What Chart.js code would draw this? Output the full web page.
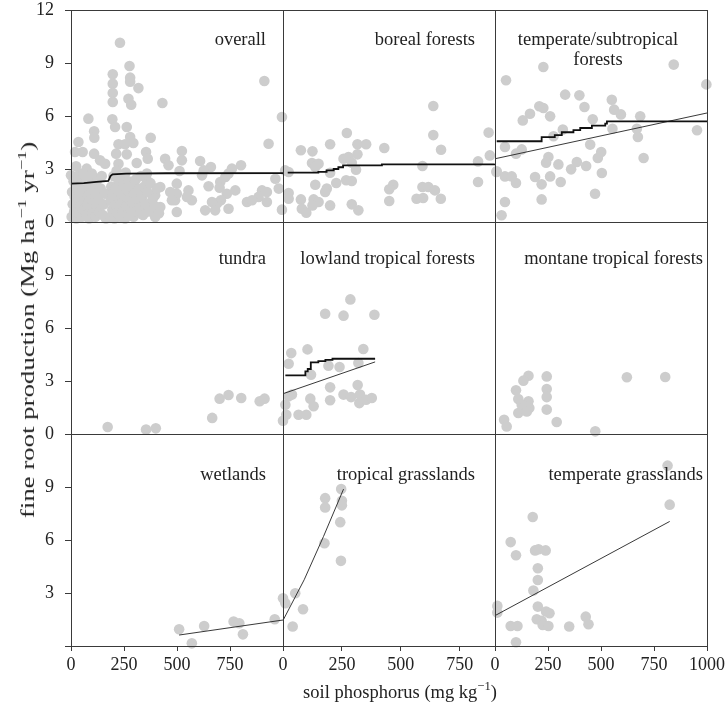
<!DOCTYPE html>
<html>
<head>
<meta charset="utf-8">
<script src="https://cdn.jsdelivr.net/npm/chart.js@4.4.0/dist/chart.umd.min.js"></script>
<style>
    body { margin: 0; background: #fff; }
    #wrap { position: relative; width: 725px; height: 710px; font-family: 'Liberation Serif', 'Times New Roman', serif; color: #222; }
    #wrap canvas { position: absolute; left: 0; top: 0; }
    .panel-title { position: absolute; font-size: 18.5px; line-height: 22px; white-space: nowrap; }
    .axis-title { position: absolute; font-size: 18.5px; line-height: 22px; white-space: nowrap; }
    sup { font-size: 0.68em; line-height: 0; position: relative; top: -0.1em; }
</style>
</head>
<body>
<div id="wrap"></div>
<script>
// Panel names, read left to right, top to bottom
const panelNames = ['overall', 'boreal forests', 'temperate/subtropical<br>forests',
    'tundra', 'lowland tropical forests', 'montane tropical forests',
    'wetlands', 'tropical grasslands', 'temperate grasslands'];

// Axis ticks per column / row
const colXMax = [1000, 900, 1000];
const xTicks = [[0, 250, 500, 750, 1000], [0, 250, 500, 750], [0, 250, 500, 750, 1000]];
const xTickLabels = [['0', '250', '500', '750', ''], ['0', '250', '500', '750'], ['0', '250', '500', '750', '1000']];
const yTicks = [0, 3, 6, 9, 12];
const yTickLabels = [['0', '3', '6', '9', '12'], ['0', '3', '6', '9', ''], ['', '3', '6', '9', '']];

// Soil P (mg/kg), fine root production (Mg/ha/yr)
const overallPts = [
    [231,10.15],[276,8.83],[197,8.36],[279,8.17],[279,7.94],[197,7.83],[318,7.58],[197,7.3],[271,6.98],[197,6.79],
    [284,6.64],[431,6.74],[912,7.98],[995,5.94],[82,5.85],[195,5.81],[208,5.38],[263,5.38],[109,5.13],[110,4.77],
    [279,4.81],[376,4.77],[35,4.53],[932,4.43],[224,4.4],[255,4.4],[294,4.47],[19,3.96],[55,3.96],[354,3.96],
    [523,4.02],[213,3.87],[263,3.83],[109,3.87],[523,3.49],[444,3.58],[362,3.58],[137,3.49],[161,3.3],[224,3.3],
    [310,3.34],[24,3.15],[74,3.02],[460,3.21],[609,3.45],[660,3.11],[626,2.92],[618,2.64],[802,3.21],[759,3.02],
    [743,2.74],[728,2.55],[704,2.26],[649,2.02],[512,2.89],[358,2.74],[0,2.64],[98,2.74],[43,2.74],[1010,2.92],
    [964,2.45],[980,1.89],[901,1.79],[924,1.7],[885,1.42],[830,1.13],[854,1.23],[924,1.13],[995,0.7],[775,1.79],
    [701,1.94],[735,1.6],[707,1.23],[743,0.75],[688,1.04],[665,1.13],[633,0.66],[680,0.66],[570,1.23],[554,1.79],
    [547,1.42],[499,2.17],[499,1.6],[491,1.23],[499,0.57],[468,1.7],[476,1.23],[421,1.98],[397,1.51],[397,0.28],
    [421,0.85],[358,2.36],[373,1.04],[334,0.47],
    [3,0.3],[8,1.0],[5,1.7],[12,2.3],[15,0.6],[18,1.4],[22,2.0],[25,0.2],[28,1.1],[32,1.8],
    [35,0.5],[38,2.5],[42,1.3],[45,0.9],[48,2.1],[52,0.3],[55,1.6],[58,2.7],[62,0.7],[65,1.2],
    [68,1.9],[72,0.4],[75,2.3],[78,1.0],[82,1.5],[85,0.2],[88,2.0],[92,0.8],[95,1.3],[98,2.6],
    [102,0.5],[105,1.8],[108,1.1],[112,2.2],[115,0.3],[118,1.5],[122,0.9],[125,2.4],[130,1.2],[135,0.6],
    [140,1.9],[145,2.6],[150,0.4],[155,1.0],[160,1.6],[165,0.2],
    [185,0.3],[188,1.2],[190,2.0],[195,0.7],[198,1.6],[200,2.6],[205,0.2],[208,1.0],[212,1.9],[215,2.9],
    [218,0.5],[222,1.4],[225,2.3],[228,0.9],[232,1.7],[235,0.3],[238,2.5],[242,1.2],[245,0.6],[248,2.0],
    [252,1.5],[255,0.2],[258,2.8],[262,0.9],[265,1.8],[268,0.4],[272,2.3],[275,1.3],[280,0.7],[285,2.0],
    [290,1.1],[295,0.3],[300,1.6],[305,2.4],[310,0.6],[315,1.3],[320,1.9],[325,0.8],[330,2.6],[335,1.4],
    [340,0.4],[345,2.0],[352,1.0],[360,1.7],[368,0.6],[375,2.2],[385,1.3],[395,0.9],[405,1.9],[415,0.5]
];
const borealPts = [
    [638,6.57],[638,4.92],[671,4.09],[271,5.04],[200,4.4],[76,4.06],[125,4.0],[316,4.4],[353,4.4],[430,4.19],
    [873,5.06],[878,3.77],[828,3.43],[906,2.83],[257,3.58],[278,3.68],[292,3.36],[316,3.83],[123,3.34],[151,3.3],
    [137,3.11],[310,2.96],[24,2.83],[200,2.79],[226,2.21],[268,2.36],[292,2.32],[137,2.11],[186,1.89],[179,1.7],
    [592,3.17],[828,2.26],[468,2.11],[451,1.85],[592,1.98],[617,1.98],[645,1.79],[567,1.32],[595,1.36],[670,1.32],
    [451,1.19],[24,1.64],[24,1.32],[76,1.28],[130,1.28],[151,1.13],[125,0.94],[200,0.94],[292,1.0],[320,0.66],
    [80,0.75],[99,0.53]
];
const tempForestPts = [
    [228,8.77],[52,8.02],[843,8.91],[997,7.79],[331,7.21],[398,7.17],[551,6.92],[209,6.55],[228,6.45],[422,6.51],
    [562,6.36],[594,6.09],[165,6.13],[131,5.75],[260,5.98],[461,5.81],[685,5.98],[953,5.19],[669,5.28],[554,5.28],
    [320,5.23],[276,4.85],[674,4.81],[449,4.38],[47,4.25],[126,4.11],[99,3.87],[501,3.96],[485,3.62],[701,3.62],
    [252,3.68],[241,3.36],[299,3.26],[386,3.4],[359,2.98],[430,3.17],[504,2.77],[8,2.87],[47,2.58],[79,2.58],
    [99,2.21],[189,2.55],[220,2.13],[260,2.58],[310,2.26],[472,1.6],[220,1.28],[47,1.13],[31,0.38]
];
const tundraPts = [[173,0.4],[354,0.25],[400,0.32],[666,0.91],[701,2.0],[743,2.21],[803,2.04],[890,1.85],[913,2.0]];
const lowlandPts = [
    [286,7.62],[179,6.81],[257,6.7],[388,6.75],[104,4.79],[341,4.81],[35,4.58],[24,3.98],[193,3.87],[240,3.79],
    [320,4.02],[119,3.36],[200,2.64],[317,2.77],[24,2.13],[38,2.23],[116,2.0],[130,1.57],[200,1.91],[257,2.23],
    [289,2.09],[327,2.23],[324,1.75],[353,1.94],[377,2.04],[10,1.66],[14,1.09],[66,1.09],[99,1.09],[0,0.75]
];
const montanePts = [
    [158,3.3],[134,3.02],[244,3.26],[622,3.21],[803,3.23],[99,2.47],[244,2.55],[244,2.09],[110,1.98],[158,1.85],
    [126,1.66],[142,1.57],[162,1.47],[110,1.19],[150,1.28],[244,1.38],[43,0.81],[55,0.43],[291,0.68],[473,0.15]
];
const wetlandPts = [[510,0.95],[570,0.15],[628,1.13],[767,1.38],[794,1.29],[811,0.66],[961,1.51]];
const tropGrassPts = [
    [247,8.88],[179,8.37],[250,8.22],[250,7.96],[179,7.84],[243,7.01],[176,5.82],[246,4.82],[52,2.99],[0,2.7],
    [10,2.42],[85,2.08],[41,1.1]
];
const tempGrassPts = [
    [814,10.21],[824,8.0],[178,7.3],[74,5.88],[99,5.14],[189,5.41],[205,5.48],[239,5.41],[202,4.4],[202,3.74],
    [181,3.14],[11,2.27],[11,1.89],[202,2.23],[241,1.95],[257,1.85],[197,1.51],[220,1.42],[225,1.19],[252,1.13],
    [74,1.13],[106,1.13],[350,1.1],[428,1.66],[441,1.23],[99,0.21]
];

// Step curves (thick) and fitted lines (thin)
const overallStep = [[0,2.17],[60,2.2],[120,2.27],[176,2.32],[186,2.6],[196,2.7],[260,2.74],[450,2.76],[1000,2.77]];
const borealStep = [[20,2.79],[150,2.84],[185,2.92],[215,3.0],[235,3.1],[255,3.2],[420,3.26],[899,3.28]];
const tempForestStep = [[8,4.57],[220,4.8],[282,4.92],[315,5.08],[370,5.2],[402,5.32],[457,5.45],[520,5.57],[528,5.7],[1000,5.7]];
const lowlandStep = [[10,3.32],[95,3.55],[105,3.68],[118,4.05],[150,4.12],[180,4.2],[210,4.26],[391,4.26]];
const tempForestFit = [[0,3.58],[1000,6.17]];
const lowlandFit = [[0,2.28],[391,4.08]];
const wetlandFit = [[510,0.62],[1000,1.47]];
const tropGrassFit = [[0,1.45],[90,3.75],[172,6.2],[257,8.88]];
const tempGrassFit = [[0,1.72],[824,7.05]];

const panels = [
    { pts: overallPts, step: overallStep, stepped: false },
    { pts: borealPts, step: borealStep, stepped: true },
    { pts: tempForestPts, step: tempForestStep, stepped: true, fit: tempForestFit },
    { pts: tundraPts },
    { pts: lowlandPts, step: lowlandStep, stepped: true, fit: lowlandFit },
    { pts: montanePts },
    { pts: wetlandPts, fit: wetlandFit },
    { pts: tropGrassPts, fit: tropGrassFit },
    { pts: tempGrassPts, fit: tempGrassFit }
];

// Layout (pixels)
const W = 725, H = 710;
const colEdges = [71, 283, 495, 707];
const rowEdges = [10, 222, 434, 646];
const yAxisW = 60, xAxisH = 40;
const titleRight = [266, 475, 703];
const titleTop = [27.5, 246.5, 462.5];

Chart.defaults.font.family = "'Liberation Serif', 'Times New Roman', serif";

const toXY = arr => arr.map(p => ({ x: p[0], y: p[1] }));

// no extra room for overhanging tick labels, so every panel lines up
function fixAxisSize(s, key, size) {
    s[key] = size;
    s.paddingTop = 0;
    s.paddingBottom = 0;
    s.paddingLeft = 0;
    s.paddingRight = 0;
}

const framePlugin = {
    id: 'frame',
    afterDatasetsDraw(chart) {
        const a = chart.chartArea;
        const ctx = chart.ctx;
        ctx.save();
        ctx.strokeStyle = '#3a3a3a';
        ctx.lineWidth = 1;
        ctx.strokeRect(Math.round(a.left) + 0.5, Math.round(a.top) + 0.5,
            Math.round(a.right - a.left), Math.round(a.bottom - a.top));
        ctx.restore();
    }
};

const wrap = document.getElementById('wrap');
const tickFont = { family: "'Liberation Serif', 'Times New Roman', serif", size: 18 };

panels.forEach(function(p, i) {
    const r = Math.floor(i / 3), c = i % 3;
    const showY = c === 0, showX = r === 2;
    const canvas = document.createElement('canvas');
    canvas.width = W;
    canvas.height = H;
    wrap.appendChild(canvas);

    const datasets = [];
    if (p.step) {
        datasets.push({ data: toXY(p.step), showLine: true, stepped: p.stepped, borderColor: '#111',
            borderWidth: 1.8, pointRadius: 0, order: 0 });
    }
    if (p.fit) {
        datasets.push({ data: toXY(p.fit), showLine: true, borderColor: '#222',
            borderWidth: 0.9, pointRadius: 0, order: 0 });
    }
    datasets.push({ data: toXY(p.pts), backgroundColor: '#cdcdcd', borderWidth: 0,
        pointRadius: 5.3, clip: false, order: 1 });

    const xScale = {
        type: 'linear', min: 0, max: colXMax[c], display: showX,
        afterBuildTicks: s => { s.ticks = xTicks[c].map(v => ({ value: v })); },
        ticks: { callback: (v, idx) => xTickLabels[c][idx], font: tickFont, color: '#222',
            padding: 3, maxRotation: 0, autoSkip: false },
        grid: { drawOnChartArea: false, tickLength: 5, color: '#3a3a3a' },
        border: { display: false }
    };
    if (showX) xScale.afterFit = s => fixAxisSize(s, 'height', xAxisH);

    const yScale = {
        type: 'linear', min: 0, max: 12, display: showY,
        afterBuildTicks: s => { s.ticks = yTicks.map(v => ({ value: v })); },
        ticks: { callback: (v, idx) => yTickLabels[r][idx], font: tickFont, color: '#222',
            padding: 11, autoSkip: false },
        grid: { drawOnChartArea: false, tickLength: 6, color: '#3a3a3a' },
        border: { display: false }
    };
    if (showY) yScale.afterFit = s => fixAxisSize(s, 'width', yAxisW);

    new Chart(canvas, {
        type: 'scatter',
        data: { datasets: datasets },
        options: {
            responsive: false,
            animation: false,
            events: [],
            layout: {
                padding: {
                    left: showY ? colEdges[c] - yAxisW : colEdges[c],
                    right: W - colEdges[c + 1],
                    top: rowEdges[r],
                    bottom: showX ? H - rowEdges[r + 1] - xAxisH : H - rowEdges[r + 1]
                }
            },
            plugins: { legend: { display: false }, tooltip: { enabled: false } },
            scales: { x: xScale, y: yScale }
        },
        plugins: [framePlugin]
    });

    // panel label
    const t = document.createElement('div');
    t.className = 'panel-title';
    t.innerHTML = panelNames[i];
    if (panelNames[i].indexOf('<br>') >= 0) {
        t.style.left = '598px';
        t.style.top = '28.5px';
        t.style.lineHeight = '20px';
        t.style.textAlign = 'center';
        t.style.transform = 'translateX(-50%)';
    } else {
        t.style.right = (W - titleRight[c]) + 'px';
        t.style.top = titleTop[r] + 'px';
    }
    wrap.appendChild(t);
});

// axis titles
const xt = document.createElement('div');
xt.className = 'axis-title';
xt.innerHTML = 'soil phosphorus (mg kg<sup>\u22121</sup>)';
xt.style.left = '400px';
xt.style.top = '681px';
xt.style.transform = 'translateX(-50%)';
wrap.appendChild(xt);

const yt = document.createElement('div');
yt.className = 'axis-title';
yt.innerHTML = 'fine root production (Mg ha<sup>\u22121</sup> yr<sup>\u22121</sup>)';
yt.style.left = '28px';
yt.style.top = '330px';
yt.style.transform = 'translate(-50%, -50%) rotate(-90deg) scaleX(1.45)';
wrap.appendChild(yt);
</script>
</body>
</html>
